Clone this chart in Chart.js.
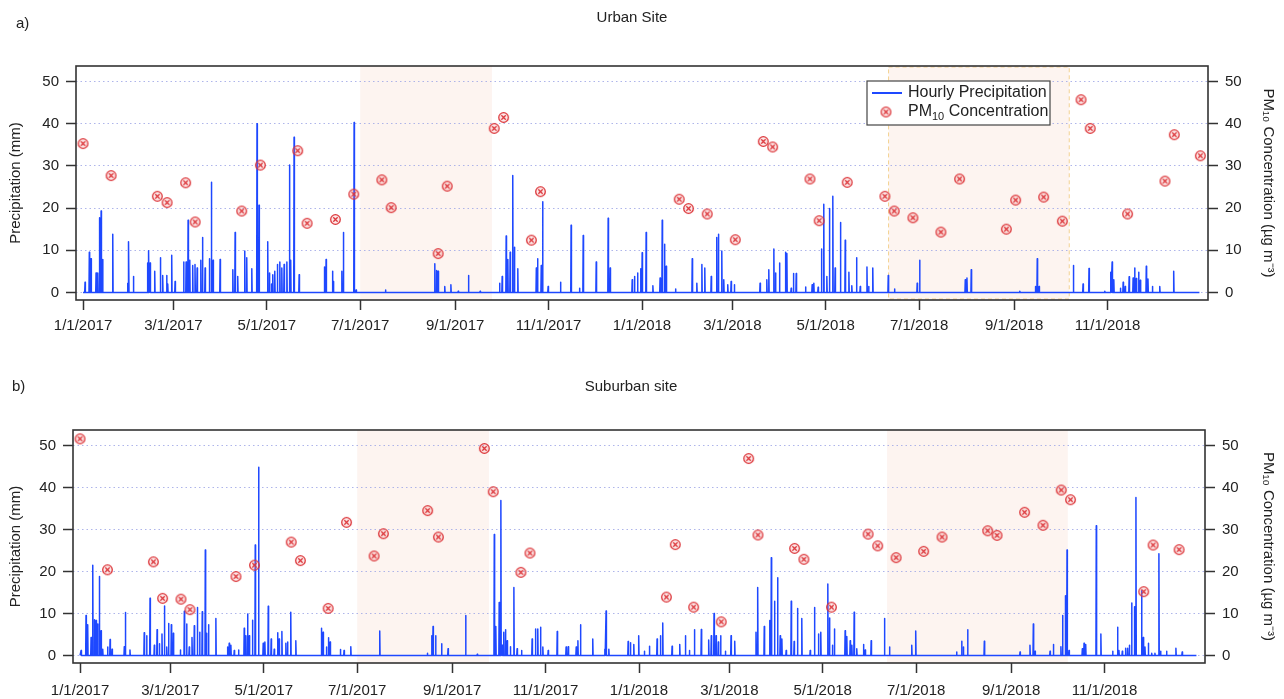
<!DOCTYPE html>
<html>
<head>
<meta charset="utf-8">
<title>Precipitation and PM10</title>
<script src="https://cdn.jsdelivr.net/npm/chart.js@4.4.0/dist/chart.umd.min.js"></script>
<style>
  body { margin: 0; background: #fff; }
  .panel { position: absolute; left: 0; }
</style>
</head>
<body>
<div class="panel" style="top:0"><canvas id="urbanChart" width="1284" height="350"></canvas></div>
<div class="panel" style="top:350px"><canvas id="suburbChart" width="1284" height="349"></canvas></div>
<script>
// x values are days since 1/1/2017
var tickDates = ['1/1/2017', '3/1/2017', '5/1/2017', '7/1/2017', '9/1/2017', '11/1/2017',
                 '1/1/2018', '3/1/2018', '5/1/2018', '7/1/2018', '9/1/2018', '11/1/2018'];
var yTicks = [0, 10, 20, 30, 40, 50];
var recordEnd = '12/31/2018';

// Urban site - hourly precipitation peaks (day, mm)
var urbanRainDay = [
  1.3, 4.1, 5.2, 8.5, 9.6, 10.7, 11.8, 12.8, 19.4, 29.2,
  29.8, 32.9, 42.2, 42.9, 43.8, 46.8, 50.5, 52.0, 54.6, 55.3,
  57.9, 60.1, 65.7, 67.3, 68.6, 69.7, 71.6, 73.1, 74.5, 76.9,
  78.0, 79.7, 82.5, 83.8, 84.9, 89.5, 97.8, 99.3, 101.0, 105.6,
  106.9, 110.2, 113.6, 114.9, 120.6, 121.7, 123.0, 123.9, 125.2, 126.9,
  128.5, 129.8, 131.3, 133.1, 134.8, 135.6, 137.8, 141.1, 157.6, 158.7,
  162.9, 163.5, 169.0, 170.0, 177.0, 178.3, 197.5, 229.7, 230.8, 231.9,
  236.2, 240.2, 245.0, 251.7, 259.3, 272.0, 273.7, 276.3, 277.4, 278.9,
  280.6, 281.7, 283.9, 296.0, 296.8, 299.2, 300.1, 303.7, 311.8, 318.7,
  324.2, 326.6, 335.1, 342.9, 344.2, 358.6, 360.1, 362.1, 364.1, 365.1,
  367.7, 372.1, 376.8, 378.2, 379.7, 380.8, 386.9, 397.8, 400.8, 404.1,
  406.0, 410.2, 413.8, 414.9, 417.1, 418.4, 421.0, 423.2, 425.3, 442.1,
  446.5, 447.8, 451.1, 452.2, 454.8, 458.7, 459.6, 462.4, 463.9, 465.7,
  471.8, 476.1, 477.2, 480.0, 482.2, 483.7, 485.7, 487.4, 489.6, 491.1,
  494.6, 497.7, 500.1, 502.0, 505.1, 507.5, 511.9, 513.0, 515.7, 525.8,
  529.9, 544.7, 546.3, 576.1, 577.2, 580.0, 611.7, 621.9, 623.1, 624.3,
  646.7, 653.0, 656.9, 667.2, 671.1, 672.0, 673.1, 677.4, 679.2, 680.5,
  683.1, 685.7, 686.7, 687.8, 689.3, 690.4, 694.3, 695.4, 698.3, 703.1, 712.2
];
var urbanRainMm = [
  2.4, 9.5, 8.0, 4.6, 4.6, 17.7, 19.3, 7.8, 13.8, 2.2,
  12.0, 3.8, 7.0, 9.9, 7.0, 5.0, 8.2, 4.0, 4.0, 2.0,
  8.8, 2.6, 7.2, 7.2, 17.1, 7.6, 6.4, 6.6, 5.8, 7.6,
  13.0, 5.8, 8.0, 26.1, 7.6, 7.8, 5.4, 14.2, 3.8, 9.8,
  8.2, 5.6, 40.0, 20.7, 12.0, 4.6, 2.0, 4.2, 5.0, 6.6,
  7.2, 5.8, 6.6, 7.2, 30.2, 7.6, 36.8, 4.2, 6.0, 7.8,
  5.0, 2.6, 5.0, 14.2, 40.3, 0.6, 0.6, 6.8, 5.2, 5.0,
  1.4, 1.8, 0.3, 4.0, 0.3, 2.2, 3.8, 13.4, 7.8, 9.5,
  27.7, 10.7, 5.6, 5.8, 8.0, 6.4, 21.5, 1.4, 2.4, 15.9,
  1.0, 13.5, 7.2, 17.6, 5.8, 3.0, 3.8, 4.6, 5.6, 9.4,
  14.2, 1.6, 3.4, 17.1, 11.4, 6.2, 0.8, 8.0, 2.2, 6.6,
  5.8, 3.8, 13.0, 13.8, 9.8, 3.0, 1.8, 2.6, 1.8, 2.2,
  3.0, 5.4, 10.3, 4.6, 7.0, 9.5, 9.2, 1.0, 4.5, 4.5,
  1.3, 1.8, 2.2, 1.2, 10.3, 20.9, 3.8, 19.9, 22.8, 5.8,
  16.6, 12.4, 4.8, 1.6, 8.2, 1.4, 6.0, 1.4, 5.8, 4.0,
  0.8, 2.2, 7.6, 3.0, 3.4, 5.4, 0.3, 1.4, 8.0, 1.4,
  6.4, 2.0, 5.7, 0.3, 4.8, 7.2, 3.0, 1.0, 2.4, 1.4,
  3.7, 3.4, 5.8, 3.3, 4.8, 2.9, 6.2, 3.2, 1.4, 1.4, 5.0
];

// Urban site - PM10 samples (day, ug m-3)
var urbanPmDay = [0, 18.3, 48.5, 54.9, 67.0, 73.2, 103.6, 115.8, 140.2, 146.3, 164.8,
                  176.8, 195.1, 201.2, 231.9, 237.8, 268.5, 274.6, 292.8, 298.7, 389.3,
                  395.4, 407.6, 425.9, 444.2, 450.3, 474.7, 480.7, 499.0, 523.6, 529.7,
                  541.9, 560.2, 572.4, 602.9, 609.0, 627.3, 639.5, 651.7, 657.7, 682.1,
                  706.5, 712.6, 729.6];
var urbanPm = [35.3, 27.7, 22.8, 21.3, 26.0, 16.7, 19.3, 30.2, 33.6, 16.4, 17.3,
               23.3, 26.7, 20.1, 9.2, 25.2, 38.9, 41.5, 12.4, 23.9, 22.1,
               19.9, 18.6, 12.5, 35.8, 34.5, 26.9, 17.0, 26.1, 22.8, 19.3,
               17.7, 14.3, 26.9, 15.0, 21.9, 22.6, 16.9, 45.7, 38.9, 18.6,
               26.4, 37.4, 32.4];

// Suburban site - hourly precipitation peaks (day, mm)
var suburbRainDay = [
  0.7, 3.9, 5.0, 7.2, 8.3, 9.4, 10.5, 11.5, 12.6, 13.7,
  14.8, 18.0, 19.6, 20.9, 28.9, 29.6, 32.6, 41.9, 43.5, 45.7,
  48.5, 50.3, 51.8, 53.5, 55.1, 56.6, 57.8, 59.6, 60.9, 65.5,
  68.1, 69.6, 71.3, 73.1, 74.6, 76.6, 78.1, 79.8, 81.8, 82.6,
  83.9, 88.7, 96.3, 97.4, 98.5, 100.7, 103.5, 107.2, 108.3, 109.4,
  110.5, 112.6, 114.4, 116.6, 119.6, 120.7, 122.9, 124.8, 126.8, 129.0,
  130.0, 131.8, 134.4, 135.5, 137.6, 140.9, 157.6, 158.7, 160.9, 162.2,
  163.3, 170.0, 172.4, 176.8, 195.7, 226.8, 229.6, 230.5, 232.2, 236.1,
  240.3, 251.8, 259.4, 270.5, 271.5, 273.7, 274.8, 275.7, 276.7, 277.8,
  278.9, 281.0, 283.3, 285.4, 288.3, 295.2, 297.4, 298.9, 300.7, 302.2,
  305.7, 311.6, 317.4, 318.8, 324.0, 325.1, 326.8, 334.8, 342.7, 343.5,
  345.3, 357.9, 359.4, 361.6, 364.8, 368.5, 371.8, 376.8, 379.0, 380.5,
  386.6, 391.6, 395.3, 397.9, 401.2, 405.7, 410.5, 412.2, 414.0, 415.3,
  416.8, 418.3, 421.4, 425.1, 427.5, 441.4, 442.5, 446.8, 450.3, 451.4,
  453.5, 455.5, 457.2, 458.3, 461.1, 464.4, 466.3, 468.5, 471.3, 476.8,
  479.6, 482.2, 483.7, 488.3, 489.4, 491.3, 492.6, 499.6, 500.7, 502.9,
  504.0, 505.5, 507.2, 511.6, 512.7, 516.6, 525.3, 528.6, 543.1, 545.7,
  572.4, 575.7, 576.8, 579.6, 590.5, 613.8, 620.3, 622.5, 623.6, 633.4,
  635.6, 640.5, 641.6, 643.4, 644.5, 645.8, 654.5, 655.6, 656.7, 663.6,
  666.6, 674.3, 677.5, 678.4, 680.6, 682.8, 684.1, 685.2, 686.7, 688.5,
  689.5, 693.2, 694.3, 695.4, 697.6, 699.8, 701.9, 704.5, 705.6, 709.5, 715.6, 719.7
];
var suburbRainMm = [
  1.2, 9.5, 7.3, 4.3, 21.5, 8.5, 8.3, 7.5, 18.8, 5.9,
  1.5, 2.0, 3.8, 1.5, 2.1, 10.2, 1.3, 5.4, 4.7, 13.6,
  2.4, 6.1, 2.8, 5.1, 11.8, 2.0, 7.6, 7.3, 5.3, 1.3,
  10.5, 7.5, 2.0, 4.3, 7.1, 11.4, 5.5, 10.4, 25.1, 5.3,
  7.3, 8.8, 2.0, 2.9, 2.4, 1.2, 1.3, 6.5, 4.7, 9.9,
  4.7, 8.4, 26.3, 44.8, 2.9, 3.2, 11.7, 3.9, 1.5, 5.4,
  3.9, 5.7, 2.9, 3.2, 10.3, 3.5, 6.5, 5.5, 2.0, 4.2,
  3.2, 1.4, 1.2, 2.1, 5.8, 0.5, 4.7, 6.9, 4.7, 2.8,
  1.6, 9.5, 0.3, 28.8, 6.9, 12.6, 36.9, 2.4, 5.5, 6.1,
  3.5, 2.1, 16.2, 1.6, 1.2, 3.9, 6.3, 6.3, 6.7, 2.0,
  1.2, 5.7, 2.0, 2.1, 2.0, 3.5, 7.3, 3.9, 1.5, 10.6,
  1.5, 3.3, 3.0, 2.6, 4.7, 1.0, 2.2, 3.9, 4.7, 7.7,
  2.2, 2.6, 4.7, 1.2, 6.1, 6.2, 3.7, 4.7, 10.0, 4.7,
  3.2, 4.7, 1.0, 4.7, 3.4, 5.5, 16.2, 6.9, 8.3, 23.3,
  12.9, 18.5, 4.7, 3.9, 1.2, 12.9, 3.3, 11.2, 8.8, 1.2,
  11.4, 5.1, 5.5, 17.0, 8.9, 2.4, 6.3, 5.9, 4.5, 3.5,
  2.4, 10.3, 1.6, 2.6, 1.3, 3.5, 8.8, 2.0, 2.4, 5.8,
  0.8, 3.4, 2.0, 6.1, 3.4, 0.8, 2.4, 7.5, 1.0, 1.0,
  2.6, 2.1, 9.5, 14.2, 25.1, 1.2, 1.6, 2.9, 2.6, 30.9,
  5.1, 1.0, 6.7, 1.2, 1.0, 1.7, 1.7, 2.4, 12.5, 11.6,
  37.6, 15.4, 4.3, 2.0, 2.9, 0.5, 0.5, 24.2, 1.0, 1.0, 1.7, 0.8
];

// Suburban site - PM10 samples (day, ug m-3)
var suburbPmDay = [0, 17.9, 47.9, 53.9, 65.9, 71.8, 101.8, 113.9, 137.9, 143.9, 162.0,
                   174.0, 192.0, 198.1, 227.0, 234.0, 264.0, 269.8, 287.9, 293.8, 382.9,
                   388.7, 400.7, 418.7, 436.6, 442.7, 466.6, 472.7, 490.7, 514.6, 520.9,
                   532.9, 550.9, 562.9, 592.7, 598.8, 616.8, 628.8, 640.7, 646.8, 694.6,
                   700.7, 717.7];
var suburbPm = [51.6, 20.4, 22.3, 13.6, 13.4, 10.9, 18.8, 21.5, 27.0, 22.6, 11.2,
                31.7, 23.7, 29.0, 34.5, 28.2, 49.3, 39.0, 19.8, 24.4, 13.9,
                26.4, 11.5, 8.0, 46.9, 28.7, 25.5, 22.9, 11.5, 28.9, 26.1,
                23.3, 24.8, 28.2, 29.7, 28.6, 34.1, 31.0, 39.4, 37.1, 15.2,
                26.3, 25.2];

// shaded periods (start, end)
var urbanShade = [['7/1/2017', '9/25/2017'], ['6/11/2018', '10/7/2018']];
var suburbShade = [['7/1/2017', '9/25/2017'], ['6/12/2018', '10/8/2018']];

var RAIN_COLOR = '#1e48ff';
var PM_COLOR = '#dc3539';
var FONT = "'Liberation Sans', Arial, sans-serif";
var X_MIN = -4.6, X_MAX = 734.6;
var Y_MIN = -1.8, Y_MAX = 53.7;

Chart.defaults.font.family = FONT;
Chart.defaults.font.size = 15;
Chart.defaults.color = '#222';

function dayOf(label) {
    var p = label.split('/').map(Number);
    return (Date.UTC(p[2], p[0] - 1, p[1]) - Date.UTC(2017, 0, 1)) / 864e5;
}
var tickDays = tickDates.map(dayOf);

// each hourly peak drawn as a narrow spike on the zero baseline
function rainPoints(days, mm) {
    var half = 0.22;
    var pts = [{x: 0, y: 0}];
    days.forEach(function (d, i) {
        pts.push({x: d - half, y: 0}, {x: d, y: mm[i]}, {x: d + half, y: 0});
    });
    pts.push({x: dayOf(recordEnd), y: 0});
    return pts;
}

function pmPoints(days, vals) {
    return days.map(function (d, i) { return {x: d, y: vals[i]}; });
}

function makeMarker() {
    var c = document.createElement('canvas');
    c.width = 13; c.height = 13;
    var g = c.getContext('2d');
    g.strokeStyle = PM_COLOR;
    g.lineWidth = 1.3;
    g.fillStyle = 'rgba(240,160,160,0.22)';
    g.beginPath(); g.arc(6.5, 6.5, 4.8, 0, Math.PI * 2); g.fill(); g.stroke();
    g.beginPath();
    g.moveTo(4.3, 4.3); g.lineTo(8.7, 8.7);
    g.moveTo(8.7, 4.3); g.lineTo(4.3, 8.7);
    g.stroke();
    return c;
}
var marker = makeMarker();

var decorPlugin = {
    id: 'decor',
    beforeDraw: function (chart, args, o) {
        var ctx = chart.ctx, a = chart.chartArea, x = chart.scales.x;
        ctx.save();
        o.shades.forEach(function (s, i) {
            var x0 = x.getPixelForValue(dayOf(s[0]));
            var x1 = x.getPixelForValue(dayOf(s[1]));
            ctx.fillStyle = '#fdf4f0';
            ctx.fillRect(x0, a.top, x1 - x0, a.bottom - a.top);
            if (o.outlined === i) {
                ctx.setLineDash([4, 3]);
                ctx.strokeStyle = 'rgba(240,200,120,0.8)';
                ctx.lineWidth = 1;
                ctx.strokeRect(x0, a.top + 1, x1 - x0, a.bottom - a.top - 2);
                ctx.setLineDash([]);
            }
        });
        ctx.fillStyle = '#222';
        ctx.font = '15px ' + FONT;
        ctx.textBaseline = 'middle';
        ctx.textAlign = 'center';
        ctx.fillText(o.title, o.titleX, o.titleY);
        ctx.textAlign = 'left';
        ctx.fillText(o.tag, o.tagX, o.tagY);
        ctx.restore();
    },
    afterDraw: function (chart, args, o) {
        var ctx = chart.ctx, a = chart.chartArea;
        ctx.save();
        ctx.strokeStyle = '#333';
        ctx.lineWidth = 1.6;
        ctx.strokeRect(a.left, a.top, a.right - a.left, a.bottom - a.top);
        var L = o.legend;
        if (L) {
            ctx.fillStyle = '#fff';
            ctx.fillRect(L.x, L.y, L.w, L.h);
            ctx.strokeStyle = '#444';
            ctx.lineWidth = 1.2;
            ctx.strokeRect(L.x, L.y, L.w, L.h);
            ctx.strokeStyle = RAIN_COLOR;
            ctx.lineWidth = 2;
            ctx.beginPath();
            ctx.moveTo(L.x + 5, L.y + 12);
            ctx.lineTo(L.x + 35, L.y + 12);
            ctx.stroke();
            ctx.drawImage(marker, L.x + 19 - 6.5, L.y + 31 - 6.5);
            var ds = chart.data.datasets;
            ctx.fillStyle = '#222';
            ctx.textBaseline = 'middle';
            ctx.textAlign = 'left';
            ctx.font = '16px ' + FONT;
            ctx.fillText(ds[1].label, L.x + 41, L.y + 12);
            var parts = ds[0].label.split('₁₀');
            var tx = L.x + 41;
            ctx.fillText(parts[0], tx, L.y + 31);
            tx += ctx.measureText(parts[0]).width;
            ctx.font = '11px ' + FONT;
            ctx.fillText('10', tx, L.y + 36);
            tx += ctx.measureText('10').width;
            ctx.font = '16px ' + FONT;
            ctx.fillText(parts[1], tx, L.y + 31);
        }
        ctx.restore();
    }
};

function makePanel(id, p) {
    var ctx = document.getElementById(id).getContext('2d');
    return new Chart(ctx, {
        type: 'line',
        data: {
            datasets: [{
                label: 'PM₁₀ Concentration',
                data: pmPoints(p.pmDay, p.pm),
                yAxisID: 'y2',
                showLine: false,
                pointStyle: marker,
                order: 0
            }, {
                label: 'Hourly Precipitation',
                data: rainPoints(p.rainDay, p.rainMm),
                yAxisID: 'y',
                borderColor: RAIN_COLOR,
                borderWidth: 1.5,
                borderJoinStyle: 'round',
                pointRadius: 0,
                tension: 0,
                fill: false,
                order: 1
            }]
        },
        options: {
            responsive: false,
            animation: false,
            events: [],
            layout: { padding: { top: p.top, left: 0, right: 0, bottom: 0 } },
            plugins: {
                legend: { display: false },
                tooltip: { enabled: false },
                decor: p.decor
            },
            scales: {
                x: {
                    type: 'linear',
                    min: X_MIN,
                    max: X_MAX,
                    afterBuildTicks: function (s) { s.ticks = tickDays.map(function (v) { return {value: v}; }); },
                    afterFit: function (s) { s.height = p.xHeight; },
                    ticks: {
                        autoSkip: false,
                        maxRotation: 0,
                        padding: p.xPad,
                        color: '#222',
                        callback: function (v, i) { return tickDates[i]; }
                    },
                    grid: { drawOnChartArea: false, tickLength: 10, tickColor: '#333', tickWidth: 1.5 },
                    border: { display: false }
                },
                y: {
                    position: 'left',
                    min: Y_MIN,
                    max: Y_MAX,
                    afterBuildTicks: function (s) { s.ticks = yTicks.map(function (v) { return {value: v}; }); },
                    afterFit: function (s) { s.width = p.leftW; },
                    ticks: { padding: 7, color: '#222' },
                    grid: { color: 'rgba(160,168,230,0.85)', lineWidth: 1, tickColor: '#333', tickLength: 10, tickWidth: 1.5 },
                    border: { display: false, dash: [1.5, 3] },
                    title: { display: true, text: 'Precipitation (mm)', color: '#222', padding: { top: 7, bottom: 0 } }
                },
                y2: {
                    position: 'right',
                    min: Y_MIN,
                    max: Y_MAX,
                    afterBuildTicks: function (s) { s.ticks = yTicks.map(function (v) { return {value: v}; }); },
                    afterFit: function (s) { s.width = p.rightW; },
                    ticks: { padding: 7, color: '#222' },
                    grid: { drawOnChartArea: false, tickColor: '#333', tickLength: 10, tickWidth: 1.5 },
                    border: { display: false },
                    title: { display: true, text: 'PM₁₀ Concentration (µg m⁻³)', color: '#222', padding: { top: 7, bottom: 0 } }
                }
            }
        },
        plugins: [decorPlugin]
    });
}

makePanel('urbanChart', {
    rainDay: urbanRainDay, rainMm: urbanRainMm, pmDay: urbanPmDay, pm: urbanPm,
    top: 66, leftW: 76, rightW: 76, xHeight: 50, xPad: 7,
    decor: {
        shades: urbanShade, outlined: 1,
        title: 'Urban Site', titleX: 632, titleY: 18,
        tag: 'a)', tagX: 16, tagY: 24,
        legend: { x: 867, y: 81, w: 183, h: 44 }
    }
});

makePanel('suburbChart', {
    rainDay: suburbRainDay, rainMm: suburbRainMm, pmDay: suburbPmDay, pm: suburbPm,
    top: 80, leftW: 73, rightW: 79, xHeight: 36, xPad: 9,
    decor: {
        shades: suburbShade, outlined: -1,
        title: 'Suburban site', titleX: 631, titleY: 37,
        tag: 'b)', tagX: 12, tagY: 37,
        legend: null
    }
});
</script>
</body>
</html>
